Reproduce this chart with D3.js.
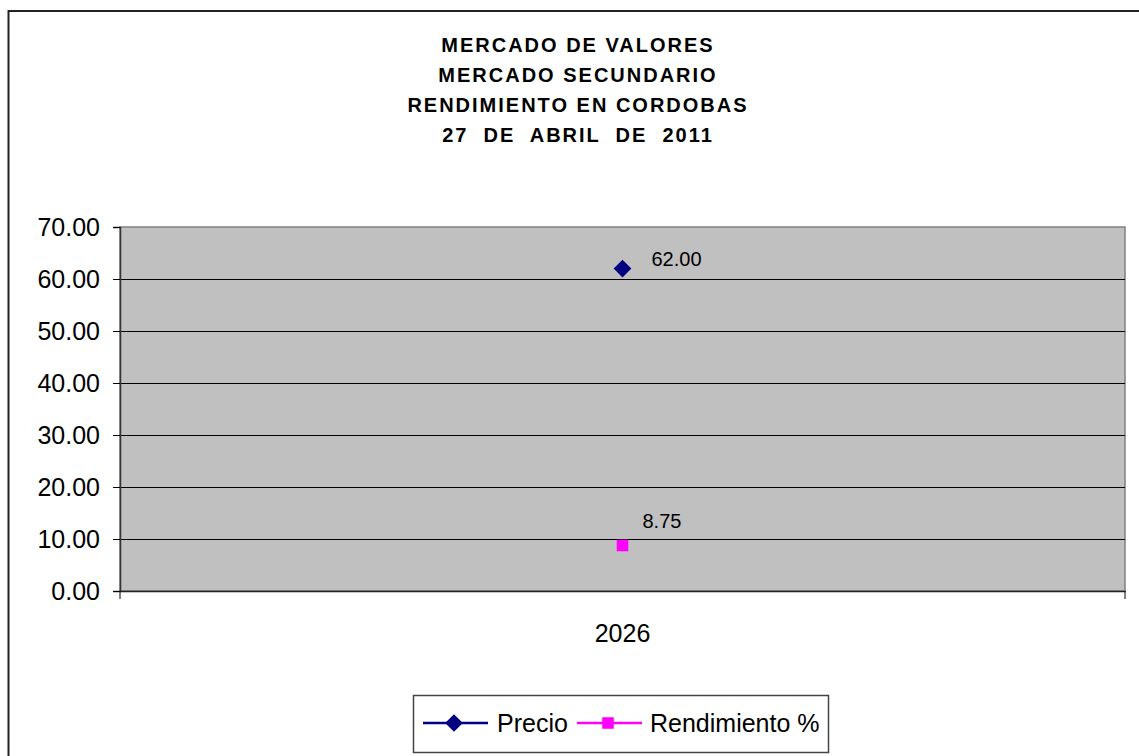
<!DOCTYPE html>
<html>
<head>
<meta charset="utf-8">
<script src="https://cdn.jsdelivr.net/npm/d3@7"></script>
<style>
  body { margin: 0; background: #fff; }
  svg { display: block; font-family: Arial, "Liberation Sans", sans-serif; }
  .title { font-weight: bold; font-size: 20px; letter-spacing: 2px; white-space: pre; }
  .grid line { stroke: #000; stroke-width: 1; }
</style>
</head>
<body>
<svg id="chart" width="1139" height="756"></svg>
<script>
const titleLines = [
  "MERCADO DE VALORES",
  "MERCADO SECUNDARIO",
  "RENDIMIENTO EN CORDOBAS",
  "27  DE  ABRIL  DE  2011"
];
const categories = ["2026"];
const seriesNames = ["Precio", "Rendimiento %"];
const precio = [62.00];
const rendimiento = [8.75];
const yTicks = [0, 10, 20, 30, 40, 50, 60, 70];

const svg = d3.select("#chart");
const W = 1139, H = 756;
const plot = { left: 120, right: 1125, top: 227, bottom: 591 };

// outer frame (runs off the right/bottom edge like the original)
svg.append("rect")
  .attr("x", 8.5).attr("y", 11)
  .attr("width", W + 20).attr("height", H + 20)
  .attr("fill", "#fff")
  .attr("stroke", "#222")
  .attr("stroke-width", 2);

// title
svg.append("g").selectAll("text")
  .data(titleLines)
  .join("text")
  .attr("class", "title")
  .attr("x", 578)
  .attr("y", (d, i) => 52 + i * 30)
  .attr("text-anchor", "middle")
  .text(d => d);

const x = d3.scaleBand().domain(categories).range([plot.left, plot.right]);
const y = d3.scaleLinear().domain([0, 70]).range([plot.bottom, plot.top]);

// plot area
svg.append("rect")
  .attr("x", plot.left).attr("y", plot.top)
  .attr("width", plot.right - plot.left).attr("height", plot.bottom - plot.top)
  .attr("fill", "#c0c0c0")
  .attr("stroke", "#808080")
  .attr("stroke-width", 1.5);

// gridlines
svg.append("g").attr("class", "grid")
  .selectAll("line")
  .data(yTicks.filter(d => d > 0 && d < 70))
  .join("line")
  .attr("x1", plot.left).attr("x2", plot.right)
  .attr("y1", d => Math.round(y(d)) + 0.5)
  .attr("y2", d => Math.round(y(d)) + 0.5);

// y axis
const yAxis = svg.append("g")
  .attr("transform", `translate(${plot.left},0)`)
  .call(d3.axisLeft(y).tickValues(yTicks).tickFormat(d3.format(".2f")).tickSize(7).tickPadding(13));
yAxis.select(".domain").attr("stroke", "#333").attr("stroke-width", 1.5);
yAxis.selectAll(".tick line").attr("stroke", "#000");
yAxis.selectAll("text")
  .attr("font-size", 25)
  .attr("font-family", "Arial, 'Liberation Sans', sans-serif")
  .attr("fill", "#000");

// x axis
const xAxis = svg.append("g")
  .attr("transform", `translate(0,${plot.bottom})`)
  .call(d3.axisBottom(x).tickSize(0).tickPadding(33));
xAxis.select(".domain").attr("stroke", "#222").attr("stroke-width", 1.5);
xAxis.selectAll("text")
  .attr("font-size", 25)
  .attr("font-family", "Arial, 'Liberation Sans', sans-serif")
  .attr("fill", "#000");
// category boundary ticks
svg.append("g").selectAll("line")
  .data([x.range()[0], x.range()[1]])
  .join("line")
  .attr("x1", d => d).attr("x2", d => d)
  .attr("y1", plot.bottom).attr("y2", plot.bottom + 8)
  .attr("stroke", "#000");

const cx = c => x(c) + x.bandwidth() / 2;
const diamond = d3.symbol().type(d3.symbolDiamond2).size(200);
const square = d3.symbol().type(d3.symbolSquare2).size(170);

// Precio series
const g1 = svg.append("g");
g1.selectAll("path")
  .data(precio)
  .join("path")
  .attr("d", diamond)
  .attr("transform", (d, i) => `translate(${cx(categories[i])},${y(d)})`)
  .attr("fill", "#000080");
g1.selectAll("text")
  .data(precio)
  .join("text")
  .attr("x", (d, i) => cx(categories[i]) + 29)
  .attr("y", d => y(d) - 3)
  .attr("font-size", 20)
  .text(d => d.toFixed(2));

// Rendimiento series
const g2 = svg.append("g");
g2.selectAll("path")
  .data(rendimiento)
  .join("path")
  .attr("d", square)
  .attr("transform", (d, i) => `translate(${cx(categories[i])},${y(d)})`)
  .attr("fill", "#ff00ff");
g2.selectAll("text")
  .data(rendimiento)
  .join("text")
  .attr("x", (d, i) => cx(categories[i]) + 20)
  .attr("y", d => y(d) - 18)
  .attr("font-size", 20)
  .text(d => d.toFixed(2));

// legend
const legend = svg.append("g");
legend.append("rect")
  .attr("x", 413.5).attr("y", 695.5)
  .attr("width", 415).attr("height", 57)
  .attr("fill", "#fff")
  .attr("stroke", "#444")
  .attr("stroke-width", 1.5);

const legendItems = [
  { name: seriesNames[0], color: "#000080", sym: diamond, x0: 423, tx: 497 },
  { name: seriesNames[1], color: "#ff00ff", sym: square, x0: 577, tx: 650 }
];
const li = legend.selectAll("g.item")
  .data(legendItems)
  .join("g")
  .attr("class", "item");
li.append("line")
  .attr("x1", d => d.x0).attr("x2", d => d.x0 + 65)
  .attr("y1", 723).attr("y2", 723)
  .attr("stroke", d => d.color)
  .attr("stroke-width", 2.5);
li.append("path")
  .attr("d", d => d.sym())
  .attr("transform", d => `translate(${d.x0 + 31},723)`)
  .attr("fill", d => d.color);
li.append("text")
  .attr("x", d => d.tx)
  .attr("y", 732)
  .attr("font-size", 25)
  .text(d => d.name);
</script>
</body>
</html>
